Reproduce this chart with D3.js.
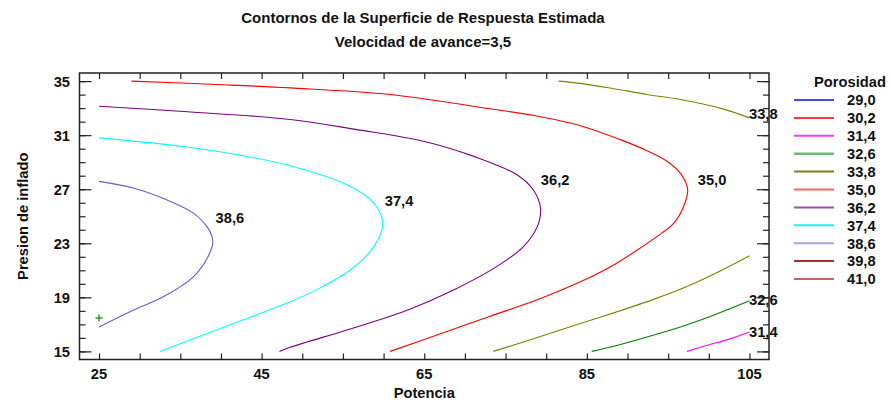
<!DOCTYPE html>
<html><head><meta charset="utf-8">
<script src="https://cdn.jsdelivr.net/npm/d3@7"></script>
<style>
html,body{margin:0;padding:0;background:#fff;}
text{font-family:"Liberation Sans",Arial,sans-serif;font-weight:bold;fill:#111;}
</style></head>
<body>
<svg id="chart" width="890" height="401"></svg>
<script>
// ---------- data ----------
const titleLines = ["Contornos de la Superficie de Respuesta Estimada", "Velocidad de avance=3,5"];
const xTitle = "Potencia";
const yTitle = "Presion de inflado";
const legendTitle = "Porosidad";
const legendLevels = ["29,0","30,2","31,4","32,6","33,8","35,0","36,2","37,4","38,6","39,8","41,0"];
const legendColors = ["#4848ff","#ff3c3c","#ff38ff","#6cbc6c","#808020","#ff6464","#a050a8","#20f0f0","#a8a0e8","#a03030","#c06464"];
const xTickLabels = [25,45,65,85,105];
const yTickLabels = [15,19,23,27,31,35];

const c31_4 = [[97.3,15],[99.8,15.45],[102.3,15.87],[105,16.44]];
const c32_6 = [[85.6,15],[88.3,15.38],[92.4,16.07],[96.5,16.81],[100.6,17.68],[105,18.74]];
const c33_8a = [[81.5,35],[84.2,34.83],[88.3,34.44],[92.4,34.01],[96.5,33.64],[101.4,33.0],[105,32.28]];
const c33_8b = [[73.5,15],[77.2,15.7],[84.2,17.06],[88.3,17.85],[93.2,18.85],[97.3,19.8],[101.4,20.95],[105,22.08]];
const c35_0 = [[29,35],[39.5,34.75],[48.5,34.5],[60.8,34.01],[73.1,32.95],[78.5,32.45],[84.2,31.7],[89.1,30.67],[92.4,29.85],[94.9,29.05],[96.6,28.1],[97.4,26.96],[96.9,25.72],[95.7,24.49],[93.6,23.49],[91.2,22.5],[88.3,21.4],[84.2,20.15],[79.3,18.92],[73.1,17.6],[67.0,16.31],[60.8,15.0]];
const c36_2 = [[25,33.14],[34.9,32.77],[48.5,32.16],[56.7,31.41],[64.9,30.55],[71.1,29.43],[76.4,28.07],[78.4,26.96],[79.3,25.6],[78.9,24.23],[77.2,22.75],[73.9,21.27],[69.0,19.66],[62.9,18.05],[56.7,16.81],[48.5,15.3],[47.2,15]];
const c37_4 = [[25,30.8],[35.8,30.13],[43.2,29.43],[48.5,28.74],[55.5,27.33],[58.8,25.97],[59.9,24.49],[58.8,22.75],[55.9,21.02],[52.2,19.7],[48.5,18.67],[40.5,16.83],[32.5,15]];
const c38_6 = [[25,27.58],[29.2,27.09],[33.3,26.22],[36.6,25.23],[38.4,24.12],[39.0,23.12],[38.4,22.01],[36.6,20.52],[32.9,19.04],[29.2,18.05],[25,16.81]];

const contourLines = [
  {pts:c31_4, color:"#ff00ff"},
  {pts:c32_6, color:"#008000"},
  {pts:c33_8a, color:"#808000"},
  {pts:c33_8b, color:"#808000"},
  {pts:c35_0, color:"#ff0000"},
  {pts:c36_2, color:"#800080"},
  {pts:c37_4, color:"#00ffff"},
  {pts:c38_6, color:"#6a5acd"}
];
const labelTexts = ["38,6","37,4","36,2","35,0","33,8","32,6","31,4"];
const labelX = [41.1,61.9,81.1,100.4,106.7,106.7,106.7];
const labelY = [24.9,26.17,27.72,27.72,32.62,18.85,16.44];
const designPoint = [[25,17.48]];

// ---------- layout ----------
const svg = d3.select("#chart");
const L = 79.5, R = 769, T = 73, B = 359.5;
const x = d3.scaleLinear().domain([22.6,107.4]).range([L,R]);
const y = d3.scaleLinear().domain([14.4,35.6]).range([B,T]);
const FS = "14.7px";

// titles
svg.selectAll("text.title").data(titleLines).enter().append("text")
  .attr("x", 423).attr("y",(d,i)=>23+i*24).attr("text-anchor","middle")
  .style("font-size","15px").text(d=>d);

// contour lines
const line = d3.line().x(d=>x(d[0])).y(d=>y(d[1])).curve(d3.curveCatmullRom.alpha(0.5));
svg.append("g").selectAll("path").data(contourLines).enter().append("path")
  .attr("d", d=>line(d.pts)).attr("fill","none").attr("stroke",d=>d.color).attr("stroke-width",1.1);

// axes with inward ticks
const xMinor = d3.range(25,105.01,5);
const yMinor = d3.range(15,35.01,1);
const axG = svg.append("g");
axG.append("g").attr("transform",`translate(0,${B})`)
  .call(d3.axisBottom(x).tickValues(xMinor).tickSize(-6).tickFormat(""))
  .call(g=>g.select(".domain").remove());
axG.append("g").attr("transform",`translate(0,${T})`)
  .call(d3.axisTop(x).tickValues(xMinor).tickSize(-6).tickFormat(""))
  .call(g=>g.select(".domain").remove());
axG.append("g").attr("transform",`translate(${L},0)`)
  .call(d3.axisLeft(y).tickValues(yMinor).tickSize(-6).tickFormat(""))
  .call(g=>g.select(".domain").remove());
axG.append("g").attr("transform",`translate(${L},0)`)
  .call(d3.axisLeft(y).tickValues(yTickLabels).tickSize(-12).tickFormat(""))
  .call(g=>g.select(".domain").remove());
axG.append("g").attr("transform",`translate(${R},0)`)
  .call(d3.axisRight(y).tickValues(yMinor).tickSize(-6).tickFormat(""))
  .call(g=>g.select(".domain").remove());
axG.append("g").attr("transform",`translate(${R},0)`)
  .call(d3.axisRight(y).tickValues(yTickLabels).tickSize(-12).tickFormat(""))
  .call(g=>g.select(".domain").remove());
axG.selectAll("line").attr("stroke","#222").attr("stroke-width",1.2);

// tick labels
svg.append("g").selectAll("text").data(xTickLabels).enter().append("text")
  .attr("x",d=>x(d)).attr("y",379).attr("text-anchor","middle").style("font-size",FS).text(d=>d);
svg.append("g").selectAll("text").data(yTickLabels).enter().append("text")
  .attr("x",70).attr("y",d=>y(d)+5.5).attr("text-anchor","end").style("font-size",FS).text(d=>d);

// frame
svg.append("rect").attr("x",L).attr("y",T).attr("width",R-L).attr("height",B-T)
  .attr("fill","none").attr("stroke","#222").attr("stroke-width",1.5);

// design point marker
svg.append("g").selectAll("path").data(designPoint).enter().append("path")
  .attr("d",d=>`M${x(d[0])-3.5},${y(d[1])}h7M${x(d[0])},${y(d[1])-3.5}v7`)
  .attr("stroke","#2a9a2a").attr("stroke-width",1.5);

// contour labels
svg.append("g").selectAll("text").data(labelTexts).enter().append("text")
  .attr("x",(d,i)=>x(labelX[i])).attr("y",(d,i)=>y(labelY[i])+5.3)
  .attr("text-anchor","middle").style("font-size",FS).text(d=>d);

// axis titles
svg.append("text").attr("x",(L+R)/2).attr("y",398).attr("text-anchor","middle").style("font-size",FS).text(xTitle);
svg.append("text").attr("transform",`translate(28,${(T+B)/2}) rotate(-90)`).attr("text-anchor","middle").style("font-size",FS).text(yTitle);

// legend
svg.append("text").attr("x",850).attr("y",87).attr("text-anchor","middle").style("font-size",FS).text(legendTitle);
const lg = svg.append("g").selectAll("g").data(legendLevels).enter().append("g")
  .attr("transform",(d,i)=>`translate(0,${100+i*17.9})`);
lg.append("line").attr("x1",794).attr("x2",834).attr("y1",0).attr("y2",0)
  .attr("stroke",(d,i)=>legendColors[i]).attr("stroke-width",(d,i)=>i===3?2.6:2);
lg.append("text").attr("x",847).attr("y",5.3).style("font-size",FS).text(d=>d);
</script>
</body></html>
